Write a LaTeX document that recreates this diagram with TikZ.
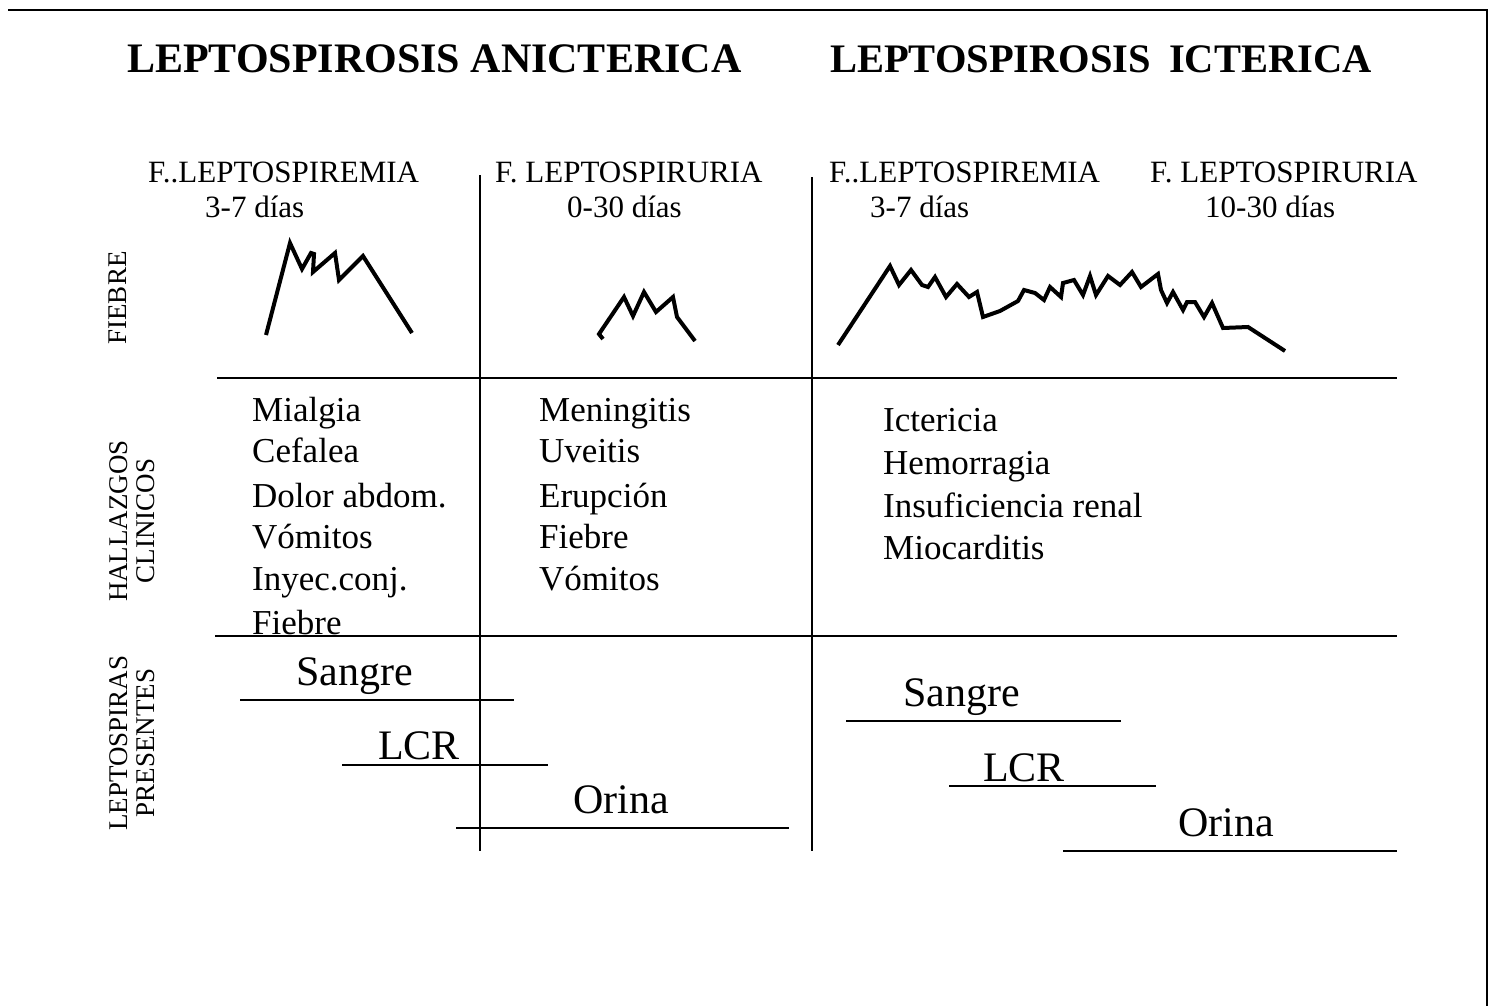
\documentclass[tikz,border=0pt]{standalone}
\usepackage{fontspec}
\setmainfont{Liberation Serif}[BoldFont={Liberation Serif Bold},ItalicFont={Liberation Serif Italic}]
\begin{document}
\begin{tikzpicture}[x=1pt,y=-1pt,
  ttl/.style={font=\fontsize{42}{48}\selectfont\bfseries, inner sep=0pt},
  hdr/.style={font=\fontsize{31}{36}\selectfont, inner sep=0pt, anchor=base west},
  item/.style={font=\fontsize{35}{40}\selectfont, inner sep=0pt, anchor=base west},
  spec/.style={font=\fontsize{42}{48}\selectfont, inner sep=0pt, anchor=base west},
  side/.style={font=\fontsize{27}{27}\selectfont, inner sep=0pt, rotate=90, align=center},
  rule/.style={line width=1.6pt},
  fever/.style={line width=4pt, line join=miter},
  frame/.style={line width=2pt}]
\useasboundingbox (0,0) rectangle (1493,1006);

% frame (top and right edges visible)
\coordinate (fTL) at (8,10);
\coordinate (fTR) at (1487,10);
\coordinate (fBR) at (1487,1006);
\draw[frame] (fTL) -- (fTR) -- (fBR);

% titles
\node[ttl, anchor=base west] (t1) at (127,73) {LEPTOSPIROSIS ANICTERICA};
\node[ttl, anchor=base east, font=\fontsize{40.5}{48}\selectfont\bfseries] (t2) at (1372,73) {LEPTOSPIROSIS\hspace{8pt} ICTERICA};

% phase headers
\node[hdr] (h1) at (148,182) {F..LEPTOSPIREMIA};
\node[hdr] (d1) at (205,217) {3-7 días};
\node[hdr] (h2) at (495,182) {F. LEPTOSPIRURIA};
\node[hdr] (d2) at (567,217) {0-30 días};
\node[hdr] (h3) at (829,182) {F..LEPTOSPIREMIA};
\node[hdr] (d3) at (870,217) {3-7 días};
\node[hdr] (h4) at (1150,182) {F. LEPTOSPIRURIA};
\node[hdr] (d4) at (1205,217) {10-30 días};

% row labels
\node[side] (rFiebre) at (118,298) {FIEBRE};
\node[side] (rHall) at (132,521) {HALLAZGOS\\CLINICOS};
\node[side] (rLept) at (132,743) {LEPTOSPIRAS\\PRESENTES};

% grid lines
\coordinate (g1a) at (217,378);  \coordinate (g1b) at (1397,378);
\coordinate (g2a) at (215,636);  \coordinate (g2b) at (1397,636);
\coordinate (v1a) at (480,175);  \coordinate (v1b) at (480,851);
\coordinate (v2a) at (812,177);  \coordinate (v2b) at (812,851);
\draw[rule] (g1a) -- (g1b);
\draw[rule] (g2a) -- (g2b);
\draw[rule] (v1a) -- (v1b);
\draw[rule] (v2a) -- (v2b);

% fever curves
\draw[fever] (266,335) -- (290,243) -- (302,269) -- (311,253) -- (314,254) -- (313,272)
  -- (335,253) -- (339,280) -- (363,256) -- (412,333);
\draw[fever] (603,339) -- (599,334) -- (624,297) -- (633,316) -- (644,292) -- (656,312)
  -- (673,297) -- (677,317) -- (695,341);
\draw[fever] (838,345) -- (890,266) -- (899,285) -- (911,270) -- (922,285) -- (928,287)
  -- (935,277) -- (946,297) -- (957,284) -- (969,297) -- (977,292) -- (983,317)
  -- (1000,311) -- (1018,301) -- (1024,290) -- (1035,293) -- (1044,300) -- (1050,287)
  -- (1061,297) -- (1063,283) -- (1074,280) -- (1083,295) -- (1090,276) -- (1096,295)
  -- (1108,276) -- (1120,285) -- (1132,272) -- (1141,287) -- (1158,274) -- (1161,290)
  -- (1167,303) -- (1173,292) -- (1183,310) -- (1187,302) -- (1195,302) -- (1204,317)
  -- (1212,303) -- (1223,328) -- (1248,327) -- (1285,351);

% clinical findings
\node[item] (a1) at (252,421) {Mialgia};
\node[item] (a2) at (252,462) {Cefalea};
\node[item] (a3) at (252,507) {Dolor abdom.};
\node[item] (a4) at (252,548) {Vómitos};
\node[item] (a5) at (252,590) {Inyec.conj.};
\node[item] (a6) at (252,634) {Fiebre};
\node[item] (b1) at (539,421) {Meningitis};
\node[item] (b2) at (539,462) {Uveitis};
\node[item] (b3) at (539,507) {Erupción};
\node[item] (b4) at (539,548) {Fiebre};
\node[item] (b5) at (539,590) {Vómitos};
\node[item] (c1) at (883,431) {Ictericia};
\node[item] (c2) at (883,474) {Hemorragia};
\node[item] (c3) at (883,517) {Insuficiencia renal};
\node[item] (c4) at (883,559) {Miocarditis};

% leptospiras present
\node[spec] (s1) at (296,685) {Sangre};
\coordinate (s1a) at (240,700); \coordinate (s1b) at (514,700);
\draw[rule] (s1a) -- (s1b);
\node[spec] (s2) at (378,759) {LCR};
\coordinate (s2a) at (342,765); \coordinate (s2b) at (548,765);
\draw[rule] (s2a) -- (s2b);
\node[spec] (s3) at (573,813) {Orina};
\coordinate (s3a) at (456,828); \coordinate (s3b) at (789,828);
\draw[rule] (s3a) -- (s3b);

\node[spec] (s4) at (903,706) {Sangre};
\coordinate (s4a) at (846,721); \coordinate (s4b) at (1121,721);
\draw[rule] (s4a) -- (s4b);
\node[spec] (s5) at (983,781) {LCR};
\coordinate (s5a) at (949,786); \coordinate (s5b) at (1156,786);
\draw[rule] (s5a) -- (s5b);
\node[spec] (s6) at (1178,836) {Orina};
\coordinate (s6a) at (1063,851); \coordinate (s6b) at (1397,851);
\draw[rule] (s6a) -- (s6b);
\end{tikzpicture}
\end{document}
